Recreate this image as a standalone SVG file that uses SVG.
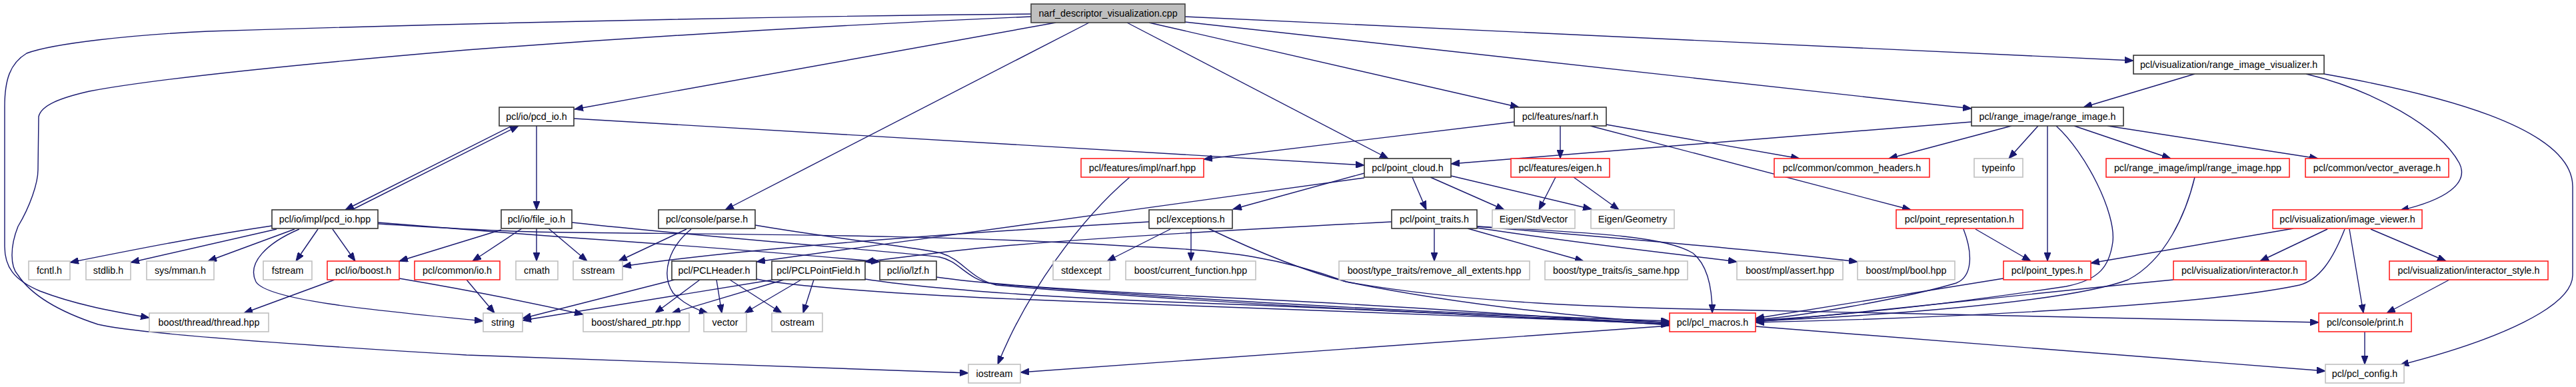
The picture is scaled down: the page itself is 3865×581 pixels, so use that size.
<svg xmlns="http://www.w3.org/2000/svg" width="3865" height="581" viewBox="0 0 3865 581">
<style>
.node rect{fill:#ffffff;stroke-width:1.6}
.blk rect{stroke:#333333}
.red rect{stroke:#ff2020}
.gry rect{stroke:#c0c0c0}
.root rect{fill:#bfbfbf;stroke:#404040}
.node text{font-family:"Liberation Sans",Arial,Helvetica,sans-serif;font-size:14.3px;fill:#000000;text-anchor:middle}
.e path{fill:none;stroke:#191970;stroke-width:1.4;marker-end:url(#ah)}
</style>
<defs>
<marker id="ah" markerUnits="userSpaceOnUse" markerWidth="14" markerHeight="10" refX="13" refY="5" orient="auto">
<path d="M0,0 L13,5 L0,10 z" fill="#191970" stroke="#191970" stroke-width="1"/>
</marker>
</defs>
<rect width="3865" height="581" fill="#ffffff"/>
<g id="connectors" class="e">
<path d="M1547,21 L1400,22.5 C1000,28 600,38 312,47 C200,52 80,65 40,80 C15,95 7,120 7,160 L7,370 C7,400 20,420 60,437 C110,456 160,466 224,477"/>
<path d="M1547,25 C1200,40 900,60 700,75 C500,92 250,115 134,137 C90,147 62,158 58,175 L57,255 C57,275 45,310 27,340 C15,370 15,400 27,413 C45,440 80,465 147,487 C200,500 400,515 700,533 L1453,560"/>
<path d="M1584,34 L862,164"/>
<path d="M1634,34 L1088,315"/>
<path d="M1691,34 L2083,238"/>
<path d="M1724,34 L2279,161"/>
<path d="M1778,33 L2958,163"/>
<path d="M1778,25 L3201,91"/>
<path d="M768,189 L518,315"/>
<path d="M528,315 L778,189"/>
<path d="M805,189 L805,315"/>
<path d="M861,178 L2047,248"/>
<path d="M408,339 C300,355 200,375 105,394"/>
<path d="M415,344 L196,394"/>
<path d="M442,344 L312,392"/>
<path d="M477,344 L444,392"/>
<path d="M499,344 L533,392"/>
<path d="M449,344 C400,365 370,395 384,423 C400,450 550,465 725,482"/>
<path d="M567,334 C700,344 760,350 860,357 C1050,370 1200,382 1320,393"/>
<path d="M567,336 C650,341 720,346 800,348 C1000,352 1400,350 1700,370 C1850,375 1930,390 2020,423 C2200,455 2400,462 2640,466 C3000,473 3300,480 3479,484"/>
<path d="M752,345 L599,392"/>
<path d="M783,343 L709,392"/>
<path d="M805,343 L805,392"/>
<path d="M823,343 L881,392"/>
<path d="M858,334 C1100,360 1350,378 1410,386 C1440,392 1450,420 1490,426 C1800,452 2200,472 2505,482"/>
<path d="M1030,344 L928,392"/>
<path d="M1037,344 C1005,370 990,410 1010,440 C1025,455 1045,465 1062,470"/>
<path d="M1133,338 C1250,358 1380,372 1412,380 C1445,390 1455,418 1495,428 C1800,455 2200,474 2505,484"/>
<path d="M502,420 L366,470"/>
<path d="M599,418 C700,435 800,455 875,472"/>
<path d="M700,420 L742,470"/>
<path d="M2119,266 L2140,315"/>
<path d="M2146,266 L2257,315"/>
<path d="M2177,264 L2388,314"/>
<path d="M2047,260 L1850,314"/>
<path d="M2047,267 L1135,393"/>
<path d="M1012,420 L784,478"/>
<path d="M1050,420 L983,470"/>
<path d="M1075,420 L1083,470"/>
<path d="M1095,420 L1173,470"/>
<path d="M1135,419 C1200,432 1400,445 1600,452 C2000,465 2300,478 2505,486"/>
<path d="M1160,420 L784,481"/>
<path d="M1176,420 L1008,470"/>
<path d="M1202,420 L1117,470"/>
<path d="M1221,420 L1205,470"/>
<path d="M1298,419 C1400,435 1600,448 1800,455 C2100,466 2350,480 2505,487"/>
<path d="M1405,416 C1500,430 1700,440 1900,450 C2150,462 2350,478 2505,488"/>
<path d="M1756,344 L1661,392"/>
<path d="M1787,343 L1787,392"/>
<path d="M1813,343 C1880,375 1950,405 2020,423 C2200,460 2400,478 2505,485"/>
<path d="M1724,333 C1400,352 1100,375 934,400"/>
<path d="M2152,343 L2152,392"/>
<path d="M2202,343 L2376,392"/>
<path d="M2216,342 C2400,370 2550,385 2606,393"/>
<path d="M2216,340 C2400,355 2640,375 2787,393"/>
<path d="M2216,340 C2400,350 2500,355 2540,380 C2565,400 2569,440 2569,470"/>
<path d="M2088,333 C1850,345 1550,362 1420,378 C1360,385 1320,390 1298,393"/>
<path d="M2334,266 L2309,315"/>
<path d="M2361,266 L2429,315"/>
<path d="M2272,183 L1806,239"/>
<path d="M2341,189 L2341,238"/>
<path d="M2410,187 L2700,238"/>
<path d="M2386,189 L2867,315"/>
<path d="M2958,183 L2177,246"/>
<path d="M3018,189 L2834,238"/>
<path d="M3058,189 L3014,238"/>
<path d="M3072,189 L3072,392"/>
<path d="M3085,189 C3130,230 3175,320 3170,363 C3165,400 3150,420 3100,430 C2900,460 2750,475 2634,481"/>
<path d="M3112,189 L3257,238"/>
<path d="M3162,189 L3478,238"/>
<path d="M3293,111 L3126,161"/>
<path d="M3460,111 C3560,135 3660,190 3690,245 C3705,275 3670,300 3601,316"/>
<path d="M3487,111 C3650,140 3860,190 3860,280 L3860,413 C3860,460 3750,510 3601,548"/>
<path d="M1695,266 C1620,330 1540,440 1497,547"/>
<path d="M2505,489 L1531,559"/>
<path d="M2634,490 L3489,557"/>
<path d="M2964,344 L3047,392"/>
<path d="M2946,344 C2960,380 2960,415 2935,425 C2850,450 2700,475 2634,480"/>
<path d="M3006,418 L2634,478"/>
<path d="M3293,266 C3280,320 3250,390 3193,420 C3100,455 2800,475 2634,482"/>
<path d="M3441,343 L3137,395"/>
<path d="M3492,344 L3391,392"/>
<path d="M3557,344 L3670,392"/>
<path d="M3525,344 L3546,470"/>
<path d="M3518,344 C3500,390 3480,420 3450,428 C3300,460 2900,478 2634,484"/>
<path d="M3261,420 C3000,445 2800,470 2634,483"/>
<path d="M3675,420 L3581,470"/>
<path d="M3548,498 L3548,547"/>
</g>
<g id="n0" class="node root"><rect x="1547" y="6" width="231" height="28"/><text x="1662.5" y="25">narf_descriptor_visualization.cpp</text></g>
<g id="n1" class="node blk"><rect x="3201" y="83" width="286" height="28"/><text x="3344" y="102">pcl/visualization/range_image_visualizer.h</text></g>
<g id="n2" class="node blk"><rect x="749" y="161" width="112" height="28"/><text x="805" y="180">pcl/io/pcd_io.h</text></g>
<g id="n3" class="node blk"><rect x="2272" y="161" width="138" height="28"/><text x="2341" y="180">pcl/features/narf.h</text></g>
<g id="n4" class="node blk"><rect x="2958" y="161" width="228" height="28"/><text x="3072" y="180">pcl/range_image/range_image.h</text></g>
<g id="n5" class="node red"><rect x="1622" y="238" width="184" height="28"/><text x="1714" y="257">pcl/features/impl/narf.hpp</text></g>
<g id="n6" class="node blk"><rect x="2047" y="238" width="130" height="28"/><text x="2112" y="257">pcl/point_cloud.h</text></g>
<g id="n7" class="node red"><rect x="2267" y="238" width="148" height="28"/><text x="2341" y="257">pcl/features/eigen.h</text></g>
<g id="n8" class="node red"><rect x="2662" y="238" width="233" height="28"/><text x="2778.5" y="257">pcl/common/common_headers.h</text></g>
<g id="n9" class="node gry"><rect x="2962" y="238" width="73" height="28"/><text x="2998.5" y="257">typeinfo</text></g>
<g id="n10" class="node red"><rect x="3160" y="238" width="275" height="28"/><text x="3297.5" y="257">pcl/range_image/impl/range_image.hpp</text></g>
<g id="n11" class="node red"><rect x="3459" y="238" width="215" height="28"/><text x="3566.5" y="257">pcl/common/vector_average.h</text></g>
<g id="n12" class="node blk"><rect x="408" y="315" width="159" height="28"/><text x="487.5" y="334">pcl/io/impl/pcd_io.hpp</text></g>
<g id="n13" class="node blk"><rect x="752" y="315" width="106" height="28"/><text x="805" y="334">pcl/io/file_io.h</text></g>
<g id="n14" class="node blk"><rect x="988" y="315" width="145" height="28"/><text x="1060.5" y="334">pcl/console/parse.h</text></g>
<g id="n15" class="node blk"><rect x="1724" y="315" width="125" height="28"/><text x="1786.5" y="334">pcl/exceptions.h</text></g>
<g id="n16" class="node blk"><rect x="2088" y="315" width="128" height="28"/><text x="2152" y="334">pcl/point_traits.h</text></g>
<g id="n17" class="node gry"><rect x="2239" y="315" width="124" height="28"/><text x="2301" y="334">Eigen/StdVector</text></g>
<g id="n18" class="node gry"><rect x="2387" y="315" width="125" height="28"/><text x="2449.5" y="334">Eigen/Geometry</text></g>
<g id="n19" class="node red"><rect x="2845" y="315" width="190" height="28"/><text x="2940" y="334">pcl/point_representation.h</text></g>
<g id="n20" class="node red"><rect x="3410" y="315" width="224" height="28"/><text x="3522" y="334">pcl/visualization/image_viewer.h</text></g>
<g id="n21" class="node gry"><rect x="43" y="392" width="62" height="28"/><text x="74" y="411">fcntl.h</text></g>
<g id="n22" class="node gry"><rect x="129" y="392" width="67" height="28"/><text x="162.5" y="411">stdlib.h</text></g>
<g id="n23" class="node gry"><rect x="220" y="392" width="101" height="28"/><text x="270.5" y="411">sys/mman.h</text></g>
<g id="n24" class="node gry"><rect x="395" y="392" width="73" height="28"/><text x="431.5" y="411">fstream</text></g>
<g id="n25" class="node red"><rect x="491" y="392" width="108" height="28"/><text x="545" y="411">pcl/io/boost.h</text></g>
<g id="n26" class="node red"><rect x="622" y="392" width="128" height="28"/><text x="686" y="411">pcl/common/io.h</text></g>
<g id="n27" class="node gry"><rect x="774" y="392" width="63" height="28"/><text x="805.5" y="411">cmath</text></g>
<g id="n28" class="node gry"><rect x="860" y="392" width="74" height="28"/><text x="897" y="411">sstream</text></g>
<g id="n29" class="node blk"><rect x="1008" y="392" width="127" height="28"/><text x="1071.5" y="411">pcl/PCLHeader.h</text></g>
<g id="n30" class="node blk"><rect x="1158" y="392" width="140" height="28"/><text x="1228" y="411">pcl/PCLPointField.h</text></g>
<g id="n31" class="node blk"><rect x="1320" y="392" width="85" height="28"/><text x="1362.5" y="411">pcl/io/lzf.h</text></g>
<g id="n32" class="node gry"><rect x="1580" y="392" width="85" height="28"/><text x="1622.5" y="411">stdexcept</text></g>
<g id="n33" class="node gry"><rect x="1689" y="392" width="195" height="28"/><text x="1786.5" y="411">boost/current_function.hpp</text></g>
<g id="n34" class="node gry"><rect x="2009" y="392" width="286" height="28"/><text x="2152" y="411">boost/type_traits/remove_all_extents.hpp</text></g>
<g id="n35" class="node gry"><rect x="2318" y="392" width="214" height="28"/><text x="2425" y="411">boost/type_traits/is_same.hpp</text></g>
<g id="n36" class="node gry"><rect x="2606" y="392" width="159" height="28"/><text x="2685.5" y="411">boost/mpl/assert.hpp</text></g>
<g id="n37" class="node gry"><rect x="2787" y="392" width="146" height="28"/><text x="2860" y="411">boost/mpl/bool.hpp</text></g>
<g id="n38" class="node red"><rect x="3006" y="392" width="131" height="28"/><text x="3071.5" y="411">pcl/point_types.h</text></g>
<g id="n39" class="node red"><rect x="3261" y="392" width="199" height="28"/><text x="3360.5" y="411">pcl/visualization/interactor.h</text></g>
<g id="n40" class="node red"><rect x="3585" y="392" width="238" height="28"/><text x="3704" y="411">pcl/visualization/interactor_style.h</text></g>
<g id="n41" class="node gry"><rect x="224" y="470" width="179" height="28"/><text x="313.5" y="489">boost/thread/thread.hpp</text></g>
<g id="n42" class="node gry"><rect x="725" y="470" width="59" height="28"/><text x="754.5" y="489">string</text></g>
<g id="n43" class="node gry"><rect x="875" y="470" width="159" height="28"/><text x="954.5" y="489">boost/shared_ptr.hpp</text></g>
<g id="n44" class="node gry"><rect x="1056" y="470" width="64" height="28"/><text x="1088" y="489">vector</text></g>
<g id="n45" class="node gry"><rect x="1158" y="470" width="76" height="28"/><text x="1196" y="489">ostream</text></g>
<g id="n46" class="node red"><rect x="2505" y="470" width="129" height="28"/><text x="2569.5" y="489">pcl/pcl_macros.h</text></g>
<g id="n47" class="node red"><rect x="3479" y="470" width="139" height="28"/><text x="3548.5" y="489">pcl/console/print.h</text></g>
<g id="n48" class="node gry"><rect x="1453" y="547" width="78" height="28"/><text x="1492" y="566">iostream</text></g>
<g id="n49" class="node gry"><rect x="3489" y="547" width="118" height="28"/><text x="3548" y="566">pcl/pcl_config.h</text></g>
</svg>
